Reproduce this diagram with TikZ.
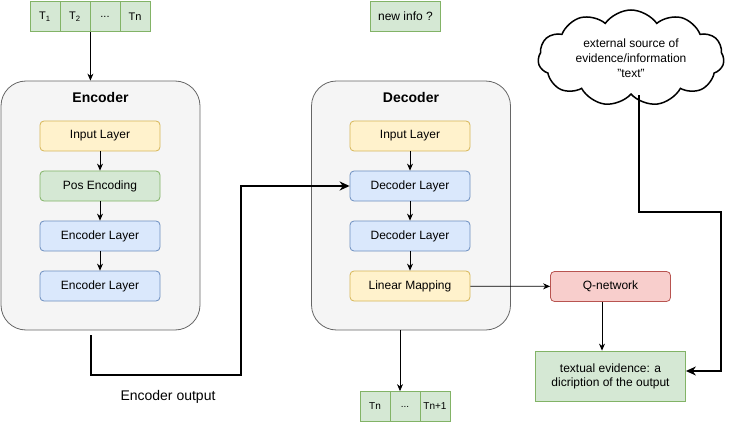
\documentclass[tikz,border=0pt]{standalone}
\usepackage{fontspec}
\setmainfont{Liberation Sans}
\usetikzlibrary{arrows.meta,shapes.symbols}
\definecolor{panelfill}{HTML}{F5F5F5}
\definecolor{panelline}{HTML}{666666}
\definecolor{yelfill}{HTML}{FFF2CC}
\definecolor{yelline}{HTML}{D6B656}
\definecolor{grnfill}{HTML}{D5E8D4}
\definecolor{grnline}{HTML}{82B366}
\definecolor{blufill}{HTML}{DAE8FC}
\definecolor{bluline}{HTML}{6C8EBF}
\definecolor{redfill}{HTML}{F8CECC}
\definecolor{redline}{HTML}{B85450}
\tikzstyle{panel}=[draw=panelline,fill=panelfill,rounded corners=25pt,minimum width=199pt,minimum height=249pt,line width=0.8pt]
\tikzstyle{title}=[font=\bfseries\fontsize{14}{16}\selectfont]
\tikzstyle{block}=[draw,rounded corners=4pt,minimum width=120pt,minimum height=30pt,inner sep=0pt,line width=0.8pt,font=\fontsize{12}{14}\selectfont]
\tikzstyle{blocky}=[block,fill=yelfill,draw=yelline]
\tikzstyle{blockg}=[block,fill=grnfill,draw=grnline]
\tikzstyle{blockb}=[block,fill=blufill,draw=bluline]
\tikzstyle{blockr}=[block,fill=redfill,draw=redline]
\tikzstyle{token}=[draw=grnline,fill=grnfill,minimum width=30pt,minimum height=30pt,inner sep=0pt,line width=0.8pt,font=\fontsize{11}{13}\selectfont]
\tikzstyle{arr}=[-{Stealth[length=7pt,width=6pt]},line width=0.8pt]
\tikzstyle{bigarr}=[-{Stealth[length=10pt,width=9pt]},line width=2pt]

\begin{document}
\begin{tikzpicture}[x=1pt,y=-1pt]
    \useasboundingbox (0,0) rectangle (730,422);
    % input tokens
    \node[token] (t1) at (45,16.5)  {T\textsubscript{1}};
    \node[token] (t2) at (75,16.5)  {T\textsubscript{2}};
    \node[token] (t3) at (105,16.5) {...};
    \node[token] (t4) at (135,16.5) {Tn};
    \node[token,minimum width=70pt,font=\fontsize{12}{14}\selectfont] (info) at (405.5,16.5) {new info ?};

    % encoder
    \node[panel] (enc) at (100.5,205.5) {};
    \node[title] (enct) at (100.5,97) {Encoder};
    \node[blocky] (e1) at (100,136) {Input Layer};
    \node[blockg] (e2) at (100,186) {Pos Encoding};
    \node[blockb] (e3) at (100,236) {Encoder Layer};
    \node[blockb] (e4) at (100,286) {Encoder Layer};

    % decoder
    \node[panel] (dec) at (411,205.5) {};
    \node[title] (dect) at (411,97) {Decoder};
    \node[blocky] (d1) at (410,136) {Input Layer};
    \node[blockb] (d2) at (410,186) {Decoder Layer};
    \node[blockb] (d3) at (410,236) {Decoder Layer};
    \node[blocky] (d4) at (410,286) {Linear Mapping};

    % output tokens
    \node[token,font=\fontsize{10}{12}\selectfont] (o1) at (375,406.5) {Tn};
    \node[token,font=\fontsize{10}{12}\selectfont] (o2) at (405,406.5) {...};
    \node[token,font=\fontsize{10}{12}\selectfont] (o3) at (435,406.5) {Tn+1};

    % q-network, evidence, source
    \node[blockr] (qn) at (610.5,286.5) {Q-network};
    \node[blockg,rounded corners=0pt,minimum width=150pt,minimum height=50pt,align=center] (ev) at (610.5,376) {textual evidence: a\\dicription of the output};
    \node[cloud,draw,fill=white,line width=1.5pt,cloud puffs=11,cloud puff arc=110,aspect=2.1,minimum width=186pt,minimum height=96pt,inner sep=0pt,align=center,font=\fontsize{12}{15}\selectfont] (src) at (631,58) {external source of\\evidence/information\\"text"};
    \node[font=\fontsize{14}{16}\selectfont] (eolab) at (168,397) {Encoder output};

    \foreach \from/\to in {e1/e2,e2/e3,e3/e4,d1/d2,d2/d3,d3/d4}
    \draw[arr] (\from) -- (\to);
    \draw[arr] (t2.south east) -- (t2.south east |- enc.north);
    \draw[arr] (d4) -- (qn);
    \draw[arr] ([xshift=-11pt]dec.south) -- ([xshift=-5pt]o2.north);
    \draw[arr] ([xshift=-8.5pt]qn.south) -- ([xshift=-8.5pt]ev.north);
    \draw[bigarr] ([shift={(-9.5,5)}]enc.south) |- (241,375) |- (d2.west);
    \draw[bigarr] ([xshift=8pt]src.south) |- (720.5,211.5) |- ([yshift=5pt]ev.east);
\end{tikzpicture}
\end{document}
